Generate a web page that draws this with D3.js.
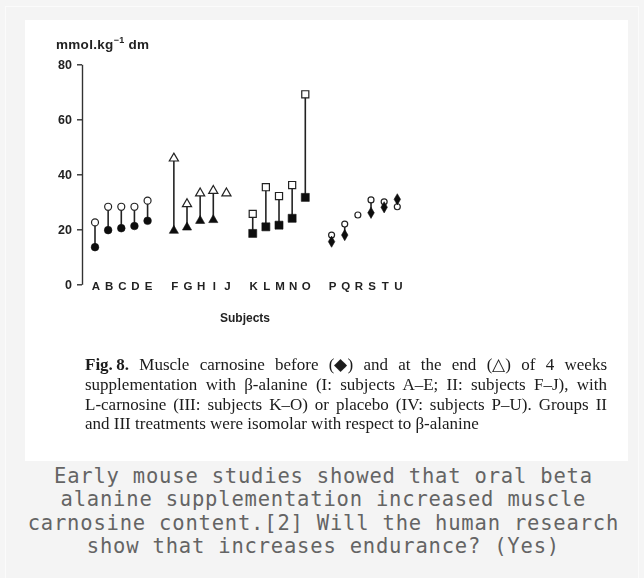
<!DOCTYPE html>
<html>
<head>
<meta charset="utf-8">
<script src="https://cdn.jsdelivr.net/npm/d3@7"></script>
<style>
  html, body { margin: 0; padding: 0; background: #f5f5f5; }
  svg { display: block; }
</style>
</head>
<body>
<svg id="page" width="644" height="578"></svg>
<script>
// Subjects, treatment groups (I–IV) and muscle carnosine (mmol/kg dm)
const subjects = ["A","B","C","D","E","F","G","H","I","J","K","L","M","N","O","P","Q","R","S","T","U"];
const groupOf  = [0,0,0,0,0, 1,1,1,1,1, 2,2,2,2,2, 3,3,3,3,3,3];
const before   = [13.5,19.7,20.4,21.2,23.1, 19.5,20.7,23.1,23.4,null, 18.5,20.9,21.5,24.0,31.6, 15.5,17.9,null,26.0,28.0,30.9];
const after    = [22.5,28.2,28.2,28.2,30.4, 45.8,29.2,33.1,34.0,33.1, 25.6,35.3,32.1,36.1,69.1, 17.9,21.9,25.2,30.7,30.0,28.2];
const yTicks   = [0, 20, 40, 60, 80];
const yTitle   = ["mmol.kg", "\u22121", " dm"];
const xTitle   = "Subjects";
const figCaption = [
  ["Fig.\u20098.", " Muscle carnosine before (\u25C6) and at the end (\u25B3) of 4 weeks"],
  ["", "supplementation with \u03B2-alanine (I: subjects A\u2013E; II: subjects F\u2013J), with"],
  ["", "L-carnosine (III: subjects K\u2013O) or placebo (IV: subjects P\u2013U). Groups II"],
  ["", "and III treatments were isomolar with respect to \u03B2-alanine"]
];
const pageCaption = [
  "Early mouse studies showed that oral beta",
  "alanine supplementation increased muscle",
  "carnosine content.[2] Will the human research",
  "show that increases endurance? (Yes)"
];

const svg = d3.select("#page");

// Outer frame and white figure plate
svg.append("rect").attr("x", 5.5).attr("y", 6.5).attr("width", 633).attr("height", 575)
  .attr("fill", "#f4f4f4").attr("stroke", "#fbfbfb").attr("stroke-width", 1);
svg.append("rect").attr("x", 25).attr("y", 20).attr("width", 603).attr("height", 441)
  .attr("fill", "#ffffff");

// soft look of the scanned figure
const defs = svg.append("defs");
defs.append("filter").attr("id", "soft").attr("x", "-5%").attr("y", "-5%").attr("width", "110%").attr("height", "110%")
  .append("feGaussianBlur").attr("stdDeviation", 0.55);

const fig = svg.append("g").attr("filter", "url(#soft)");

// Scales: each group leaves one empty slot before the next group
const x = d3.scaleLinear().domain([0, 23]).range([95, 397.3]);
const y = d3.scaleLinear().domain([0, 80]).range([284.3, 64.3]);
const slot = i => i + groupOf[i];

const sans = "'Liberation Sans', Arial, Helvetica, sans-serif";
const serif = "'Liberation Serif', 'Times New Roman', Times, serif";

// Y axis
const yAxis = fig.append("g").attr("transform", "translate(82,0)")
  .call(d3.axisLeft(y).tickValues(yTicks).tickSize(5).tickSizeOuter(0).tickPadding(5));
yAxis.select(".domain").attr("stroke", "#333").attr("stroke-width", 1.4);
yAxis.selectAll(".tick line").attr("stroke", "#333").attr("stroke-width", 1.4);
yAxis.selectAll(".tick text").attr("fill", "#222")
  .style("font-family", sans).style("font-weight", "bold").style("font-size", "12.5px");

// Y axis title with superscript
const yt = fig.append("text").attr("x", 56).attr("y", 48.5)
  .style("font-family", sans).style("font-weight", "bold").style("font-size", "13.5px")
  .style("letter-spacing", "0.3px")
  .attr("fill", "#222");
yt.append("tspan").text(yTitle[0]);
yt.append("tspan").attr("dy", -5.5).style("font-size", "9px").text(yTitle[1]);
yt.append("tspan").attr("dy", 5.5).text(yTitle[2]);

// Subject letters
fig.append("g").selectAll("text").data(subjects).join("text")
  .attr("x", (d, i) => x(slot(i)) + 1)
  .attr("y", 289.5)
  .attr("text-anchor", "middle")
  .attr("fill", "#222")
  .style("font-family", sans).style("font-weight", "bold").style("font-size", "11.5px")
  .text(d => d);

fig.append("text").attr("x", 245).attr("y", 322).attr("text-anchor", "middle")
  .attr("fill", "#222")
  .style("font-family", sans).style("font-weight", "bold").style("font-size", "12px")
  .text(xTitle);

// Vertical links between before and after values
const idx = d3.range(subjects.length);
fig.append("g").selectAll("line")
  .data(idx.filter(i => before[i] != null && after[i] != null))
  .join("line")
  .attr("x1", i => x(slot(i))).attr("x2", i => x(slot(i)))
  .attr("y1", i => y(before[i])).attr("y2", i => y(after[i]))
  .attr("stroke", "#222").attr("stroke-width", 1.6);

// Marker shapes per group
const shapeBefore = [d3.symbolCircle, d3.symbolTriangle, d3.symbolSquare, d3.symbolDiamond];
const shapeAfter  = [d3.symbolCircle, d3.symbolTriangle, d3.symbolSquare, d3.symbolCircle];
const sizeBefore  = [46, 36, 64, 36];
const sizeAfter   = [38, 36, 50, 28];

// End values (open)
fig.append("g").selectAll("path")
  .data(idx.filter(i => after[i] != null))
  .join("path")
  .attr("transform", i => `translate(${x(slot(i))},${y(after[i])})`)
  .attr("d", i => d3.symbol(shapeAfter[groupOf[i]], sizeAfter[groupOf[i]])())
  .attr("fill", "#fff").attr("stroke", "#222").attr("stroke-width", 1.2);

// Baseline values (filled)
fig.append("g").selectAll("path")
  .data(idx.filter(i => before[i] != null))
  .join("path")
  .attr("transform", i => `translate(${x(slot(i))},${y(before[i])})`)
  .attr("d", i => d3.symbol(shapeBefore[groupOf[i]], sizeBefore[groupOf[i]])())
  .attr("fill", "#111").attr("stroke", "#111").attr("stroke-width", 0.6);

// Figure legend, justified between the plate margins
const capLeft = 85, capRight = 607, capTop = 370, capStep = 19.8;
figCaption.forEach((parts, k) => {
  const t = fig.append("text").attr("x", capLeft).attr("y", capTop + k * capStep)
    .attr("fill", "#1a1a1a")
    .style("font-family", serif).style("font-size", "17px");
  if (parts[0]) t.append("tspan").style("font-weight", "bold").text(parts[0]);
  t.append("tspan").text(parts[1]);
  if (k < figCaption.length - 1) {
    const natural = t.node().getComputedTextLength();
    const spaces = (parts.join("").match(/ /g) || []).length;
    t.style("word-spacing", ((capRight - capLeft - natural) / spaces) + "px");
  }
});

// Caption under the figure
const capSpacing = 0.8;
svg.append("g").selectAll("text").data(pageCaption).join("text")
  .attr("x", 323 + capSpacing / 2)
  .attr("y", (d, i) => 483 + i * 23.4)
  .attr("text-anchor", "middle")
  .attr("fill", "#646464")
  .style("font-family", "'DejaVu Sans Mono', monospace")
  .style("font-size", "20.5px")
  .style("letter-spacing", capSpacing + "px")
  .text(d => d);
</script>
</body>
</html>
